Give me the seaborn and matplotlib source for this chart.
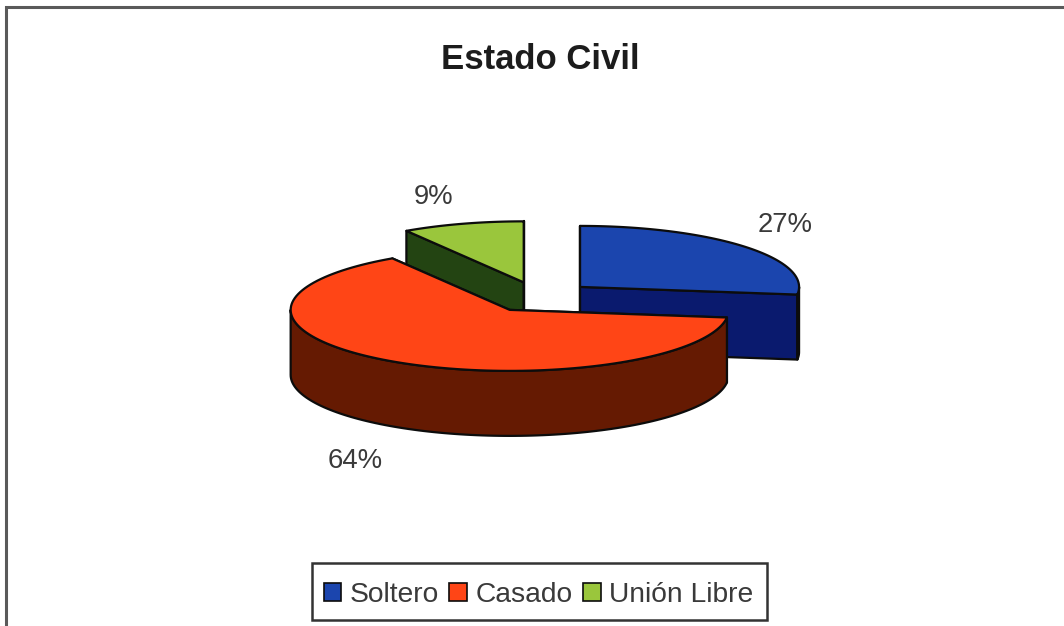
import numpy as np
import matplotlib
matplotlib.use("Agg")
import matplotlib.pyplot as plt
from matplotlib.patches import Patch, Rectangle
import seaborn as sns

# Survey breakdown by marital status
categories = ["Soltero", "Casado", "Unión Libre"]
percentages = [27, 64, 9]
top_colors = ["#1B45AE", "#FF4516", "#9AC63C"]
side_colors = ["#0A1A6E", "#651A02", "#234412"]

sns.set_theme(style="white")
plt.rcParams["font.family"] = ["Liberation Sans", "DejaVu Sans"]
top_palette = sns.color_palette(top_colors)
side_palette = sns.color_palette(side_colors)

TEXT = "#3a3a3a"
EDGE = "#0c0c0c"

# Projected geometry of the tilted, exploded pie (canvas pixels)
CX, CY = 539.0, 297.0
RX, RY = 219.0, 61.0
DEPTH = 65.0
EXPLODE = 0.25


def rim(cx, cy, a0, a1, n=120):
    t = np.linspace(a0, a1, n)
    return cx + RX * np.sin(t), cy - RY * np.cos(t)


fig = plt.figure(figsize=(10.64, 6.26), dpi=100, facecolor="white")
ax = fig.add_axes([0, 0, 1, 1])
ax.set_xlim(0, 1064)
ax.set_ylim(626, 0)
ax.axis("off")

# Chart border: only the top and left edges fall inside the canvas
ax.plot([5.5, 5.5, 1064], [626, 6.5, 6.5], color="#5a5a5a", lw=2.2, zorder=1,
        solid_joinstyle="miter")

shares = np.array(percentages) / sum(percentages) * 2 * np.pi
stops = np.concatenate([[0], np.cumsum(shares)])
slices = []
for i in range(len(shares)):
    a0, a1 = stops[i], stops[i + 1]
    mid = (a0 + a1) / 2
    cx = CX + EXPLODE * RX * np.sin(mid)
    cy = CY - EXPLODE * RY * np.cos(mid)
    slices.append((i, a0, a1, cx, cy))

# Painter's order: the slices furthest back come first
slices.sort(key=lambda s: s[4])
z = 2
style = dict(ec=EDGE, lw=1.6, joinstyle="round")
for i, a0, a1, cx, cy in slices:
    # Cut faces
    for a in (a0, a1):
        ex, ey = rim(cx, cy, a, a, 1)
        ax.fill([cx, ex[0], ex[0], cx], [cy, ey[0], ey[0] + DEPTH, cy + DEPTH],
                fc=side_palette[i], zorder=z, **style)
        z += 1
    # Outer wall, only where the rim faces the viewer
    lo, hi = max(a0, np.pi / 2), min(a1, 3 * np.pi / 2)
    if hi > lo:
        wx, wy = rim(cx, cy, lo, hi)
        ax.fill(np.r_[wx, wx[::-1]], np.r_[wy, wy[::-1] + DEPTH],
                fc=side_palette[i], zorder=z, **style)
        z += 1
    # Top surface
    tx, ty = rim(cx, cy, a0, a1)
    ax.fill(np.r_[cx, tx], np.r_[cy, ty], fc=top_palette[i], zorder=z, **style)
    z += 1

ax.text(540, 59.5, "Estado Civil", ha="center", va="center", fontsize=25,
        fontweight="bold", color="#1c1c1c")

# Percentage labels, in the same order as the categories
label_spots = [(785, 225.5), (355, 460.5), (434, 197.5)]
for value, (lx, ly) in zip(percentages, label_spots):
    ax.text(lx, ly, f"{value}%", ha="center", va="center", fontsize=19.8, color=TEXT)

# Legend box and its entries
ax.add_patch(Rectangle((312, 563), 455, 57, fc="white", ec="#333333", lw=1.8, zorder=20))
handles = [Patch(fc=top_palette[i], ec=EDGE, lw=1.2, label=c) for i, c in enumerate(categories)]
leg = ax.legend(handles=handles, loc="center", bbox_to_anchor=(538.5, 595),
                bbox_transform=ax.transData, ncol=3, frameon=False,
                fontsize=20.3, handlelength=0.62, handleheight=0.62, handletextpad=0.3,
                columnspacing=0.38, borderpad=0, borderaxespad=0, labelcolor=TEXT)
leg.set_zorder(21)

fig.savefig("out.png", dpi=100)
